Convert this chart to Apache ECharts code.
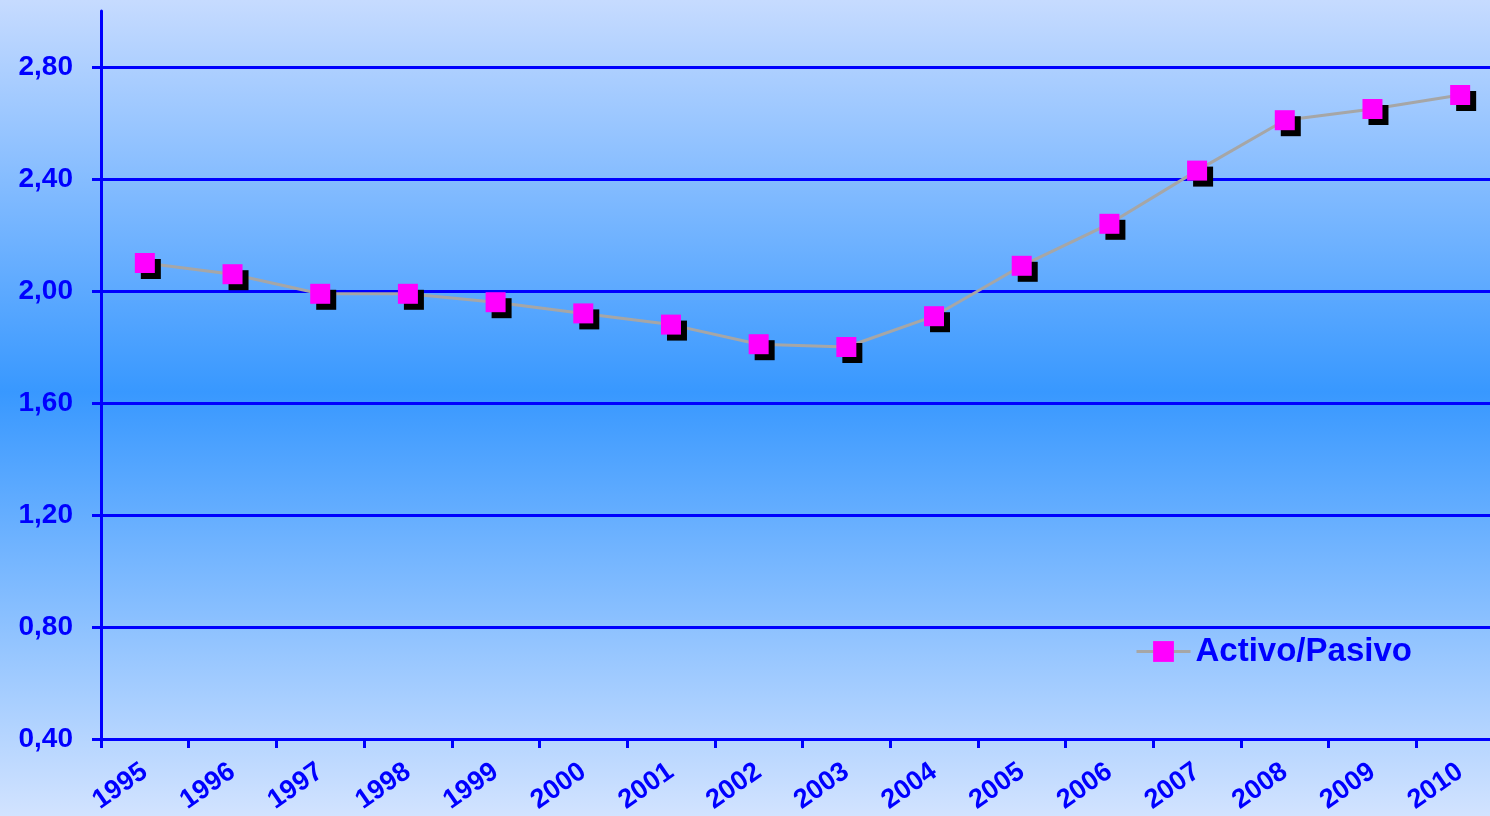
<!DOCTYPE html>
<html><head><meta charset="utf-8">
<script src="https://cdn.jsdelivr.net/npm/echarts@6/dist/echarts.min.js"></script>
<style>html,body{margin:0;padding:0;}#c{width:1490px;height:816px;}</style>
</head><body><div id="c"></div>
<script>
var years = ['1995','1996','1997','1998','1999','2000','2001','2002','2003','2004','2005','2006','2007','2008','2009','2010'];
var activoPasivo = [2.10,2.06,1.99,1.99,1.96,1.92,1.88,1.81,1.80,1.91,2.09,2.24,2.43,2.61,2.65,2.70];
var seriesName = 'Activo/Pasivo';
var yMin = 0.4, yMax = 3.0, yStep = 0.4;

var blue = '#0000ff';
var font = 'Liberation Sans, Arial, sans-serif';
var chart = echarts.init(document.getElementById('c'));
chart.setOption({
  backgroundColor: new echarts.graphic.LinearGradient(0,0,0,1,[
    {offset:0,color:'#c6dbff'},
    {offset:0.48,color:'#3898ff'},
    {offset:1,color:'#d2e3ff'}
  ]),
  animation:false,
  grid:{left:101,top:11,bottom:77,width:1403,outerBoundsMode:'none',containLabel:false},
  legend:{
    show:true,left:1130,top:630,itemWidth:54,itemHeight:26,itemGap:4,
    data:[{name:seriesName,itemStyle:{shadowColor:'transparent'},lineStyle:{width:3,color:'#a6a6a6'}}],
    textStyle:{color:blue,fontSize:33,fontWeight:'bold',fontFamily:font}
  },
  xAxis:{
    type:'category',data:years,boundaryGap:true,
    axisLine:{lineStyle:{color:blue,width:3}},
    axisTick:{show:true,length:9,lineStyle:{color:blue,width:3}},
    axisLabel:{color:blue,fontSize:27,fontWeight:'bold',rotate:35,margin:30,interval:0,fontFamily:font}
  },
  yAxis:{
    type:'value',min:yMin,max:yMax,interval:yStep,
    axisLine:{show:true,lineStyle:{color:blue,width:3}},
    axisTick:{show:true,length:9,lineStyle:{color:blue,width:3}},
    axisLabel:{color:blue,fontSize:28,fontWeight:'bold',margin:28,showMaxLabel:false,fontFamily:font,
      formatter:function(v){return v.toFixed(2).replace('.',',');}},
    splitLine:{show:true,lineStyle:{width:3,color:[blue,blue,blue,blue,blue,blue,blue,'transparent']}}
  },
  series:[{
    name:seriesName,type:'line',data:activoPasivo,
    symbol:'rect',symbolSize:20,
    lineStyle:{color:'#a6a6a6',width:3},
    itemStyle:{color:'#ff00ff',shadowColor:'#000',shadowOffsetX:6,shadowOffsetY:6,shadowBlur:0}
  }]
});
</script></body></html>
